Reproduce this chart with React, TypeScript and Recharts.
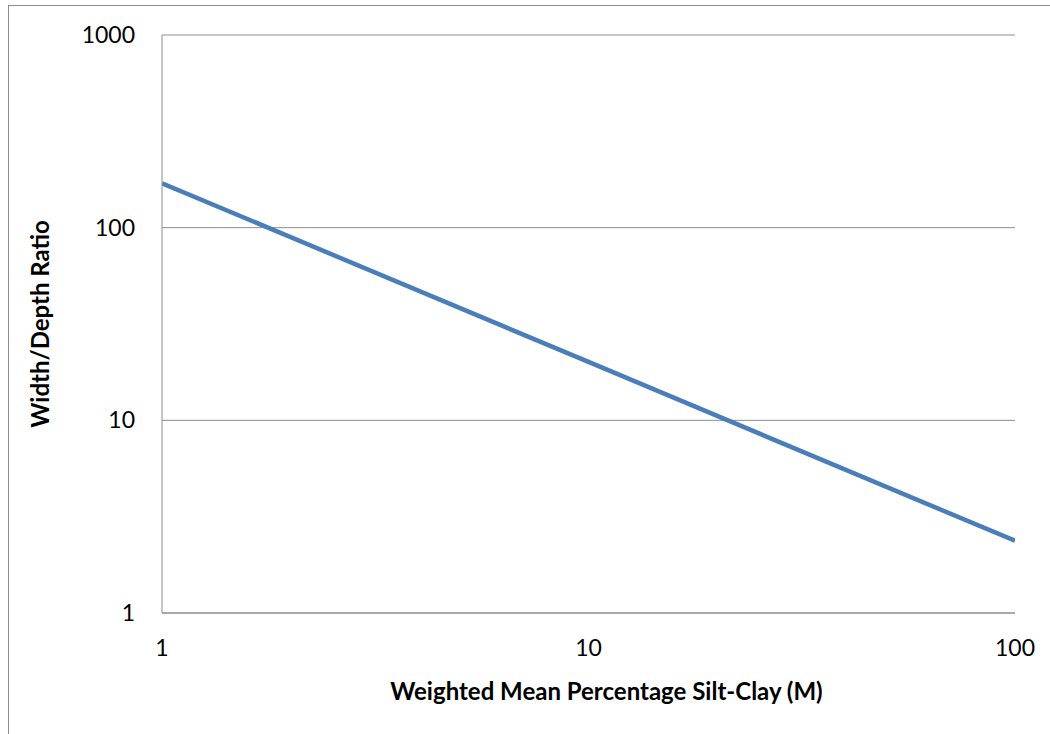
import { CartesianGrid, Label, Line, LineChart, XAxis, YAxis } from "recharts";

const siltClay = [1, 10, 100];
const widthDepth = [170, 20.1, 2.37];
const xTicks = [1, 10, 100];
const yTicks = [1, 10, 100, 1000];

const data = siltClay.map((m, i) => ({ m, ratio: widthDepth[i] }));

const FONT = "Lato, 'Open Sans', sans-serif";
const GRAY = "#8c8c8c";

/** Width/depth ratio against weighted mean percentage silt-clay, log-log. */
export default function App() {
  return (
    <div
      style={{
        position: "absolute",
        left: 8,
        top: 5,
        width: 1100,
        height: 800,
        border: `1px solid ${GRAY}`,
        background: "#fff",
        fontFamily: FONT,
      }}
    >
      <LineChart width={1041} height={728} data={data} margin={{ top: 29, right: 35, bottom: 91, left: 93 }}>
        <CartesianGrid vertical={false} stroke={GRAY} strokeWidth={1} />
        <XAxis
          dataKey="m"
          type="number"
          scale="log"
          domain={[1, 100]}
          ticks={xTicks}
          tickLine={false}
          tickSize={0}
          tickMargin={27}
          height={30}
          axisLine={{ stroke: GRAY, strokeWidth: 1 }}
          tick={{ fill: "#000", fontSize: 23, fontFamily: FONT }}
          allowDataOverflow
        >
          <Label
            value="Weighted Mean Percentage Silt-Clay (M)"
            position="bottom"
            offset={40}
            dx={18}
            style={{ fill: "#000", fontSize: 24, fontWeight: 700, fontFamily: FONT }}
          />
        </XAxis>
        <YAxis
          dataKey="ratio"
          type="number"
          scale="log"
          domain={[1, 1000]}
          ticks={yTicks}
          tickLine={false}
          tickSize={0}
          tickMargin={27}
          width={60}
          axisLine={{ stroke: GRAY, strokeWidth: 1 }}
          tick={{ fill: "#000", fontSize: 23, fontFamily: FONT }}
          allowDataOverflow
        >
          <Label
            value="Width/Depth Ratio"
            angle={-90}
            position="insideLeft"
            offset={-62}
            style={{ fill: "#000", fontSize: 24, fontWeight: 700, fontFamily: FONT, textAnchor: "middle" }}
          />
        </YAxis>
        <Line
          type="linear"
          dataKey="ratio"
          stroke="#4a7ebb"
          strokeWidth={4.5}
          dot={false}
          isAnimationActive={false}
        />
      </LineChart>
    </div>
  );
}
